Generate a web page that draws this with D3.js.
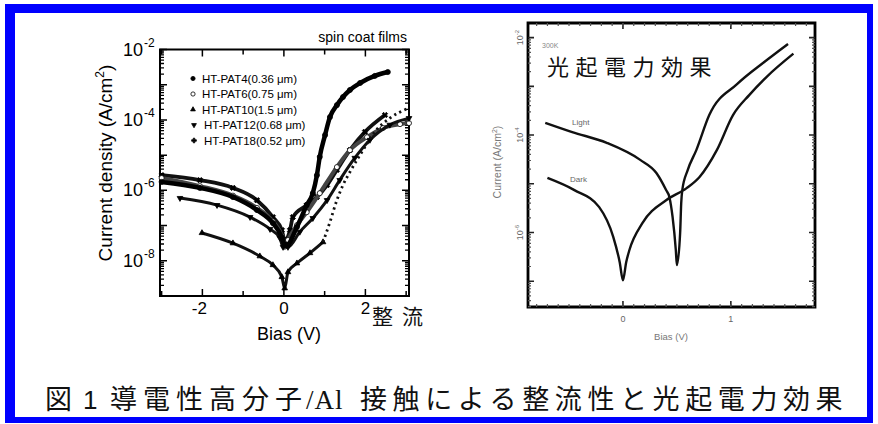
<!DOCTYPE html>
<html>
<head>
<meta charset="utf-8">
<script src="https://cdn.jsdelivr.net/npm/d3@7"></script>
<style>
  body { margin: 0; background: #fff; }
  svg { display: block; }
</style>
</head>
<body>
<svg id="fig" width="878" height="424"></svg>
<script>

// ---- left panel data: [bias (V), log10 current density (A/cm2)]
var pat4 = [[-3.0,-5.76],[-2.06,-5.93],[-1.25,-6.19],[-0.66,-6.56],[-0.27,-6.93],[-0.05,-7.33],[0.02,-7.55],
            [0.07,-7.55],[0.32,-7.04],[0.56,-6.42],[0.71,-6.08],[0.81,-5.57],[0.88,-5.05],[1.01,-4.43],
            [1.13,-3.92],[1.30,-3.58],[1.45,-3.35],[1.62,-3.15],[1.87,-2.95],[2.23,-2.75],[2.55,-2.64]];
var pat6 = [[-3.0,-5.65],[-2.06,-5.88],[-1.25,-6.15],[-0.66,-6.50],[-0.27,-6.88],[-0.05,-7.30],[0.02,-7.60],
            [0.10,-7.41],[0.32,-6.99],[0.56,-6.62],[0.88,-6.08],[1.30,-5.34],[1.62,-4.86],[2.04,-4.49],
            [2.43,-4.23],[2.85,-4.12],[3.07,-4.09]];
var pat10 = [[-2.01,-7.21],[-1.25,-7.50],[-0.59,-7.87],[-0.27,-8.12],[-0.05,-8.46],[0.02,-8.78],
             [0.10,-8.32],[0.32,-8.07],[0.64,-7.78],[0.96,-7.47]];
var pat10Rise = [[0.96,-7.47],[1.13,-6.90],[1.30,-6.28],[1.45,-5.85],[1.62,-5.48],[1.94,-4.86],
                 [2.23,-4.34],[2.60,-3.95],[3.07,-3.66]];
var pat12 = [[-2.55,-6.22],[-1.64,-6.42],[-0.83,-6.76],[-0.34,-7.10],[-0.10,-7.35],[-0.02,-7.61],
             [0.10,-7.61],[0.39,-7.18],[0.71,-6.79],[1.06,-6.28],[1.37,-5.71],[1.74,-5.08],[2.11,-4.57],
             [2.60,-4.14],[3.07,-3.95]];
var pat18 = [[-3.0,-5.57],[-2.06,-5.71],[-1.25,-5.93],[-0.66,-6.28],[-0.27,-6.76],[-0.05,-7.13],[0.02,-7.41],
             [0.15,-7.13],[0.22,-6.76],[0.56,-6.42],[0.81,-6.19],[1.06,-5.85],[1.30,-5.42],[1.62,-4.86],
             [1.99,-4.34],[2.48,-3.86]];

var legendLabels = ["HT-PAT4(0.36 \u03bcm)", "HT-PAT6(0.75 \u03bcm)", "HT-PAT10(1.5 \u03bcm)",
                    "HT-PAT12(0.68 \u03bcm)", "HT-PAT18(0.52 \u03bcm)"];
var leftXTicks = [-2, 0, 2];
var leftXMinor = [-3, -1, 1, 3];
var leftYTicks = [-8, -6, -4, -2];

// ---- right panel data (photovoltaic effect, 300K): [bias (V), log10 current]
var lightCurve = [[-0.72,-3.75],[-0.47,-3.94],[-0.15,-4.16],[0.16,-4.51],[0.31,-4.78],[0.40,-5.13],
                  [0.43,-5.27],[0.46,-5.68],[0.49,-6.36],[0.50,-6.67],[0.53,-6.01],[0.54,-5.40],
                  [0.55,-5.13],[0.60,-4.72],[0.68,-4.31],[0.80,-3.59],[1.06,-2.95],[1.31,-2.50],[1.53,-2.13]];
var darkCurve = [[-0.70,-4.88],[-0.45,-5.13],[-0.22,-5.48],[-0.09,-6.09],[-0.03,-6.61],[0.0,-6.98],
                 [0.03,-6.61],[0.06,-6.36],[0.18,-5.81],[0.40,-5.34],[0.59,-5.09],[0.71,-4.86],
                 [0.87,-4.31],[1.02,-3.59],[1.17,-3.18],[1.33,-2.81],[1.58,-2.33]];
var rightXTicks = [0, 1];
var rightYTicks = [-6, -4, -2];

var svg = d3.select("#fig");
var sans = "'Liberation Sans', Arial, sans-serif";
var cjk = "'Noto Sans CJK JP', sans-serif";
var pow10 = function(e) { return Math.pow(10, e); };

/* blue frame */
svg.append("rect").attr("x", 5).attr("y", 4).attr("width", 10).attr("height", 419).attr("fill", "#0000ff");
svg.append("rect").attr("x", 5).attr("y", 4).attr("width", 868).attr("height", 9).attr("fill", "#0000ff");
svg.append("rect").attr("x", 867).attr("y", 4).attr("width", 6).attr("height", 419).attr("fill", "#0000ff");
svg.append("rect").attr("x", 5).attr("y", 417).attr("width", 868).attr("height", 6).attr("fill", "#0000ff");

// tick marks drawn as one path per set
function tickPath(g, scale, vals, orient, pos, len, w, col) {
  var d = vals.map(function(v) {
    var s = scale(v);
    return orient == "h" ? "M" + pos + "," + s + "h" + len : "M" + s + "," + pos + "v" + len;
  }).join("");
  g.append("path").attr("d", d).attr("fill", "none").attr("stroke", col).attr("stroke-width", w);
}

var P = svg.append("g").attr("font-family", sans);

// ================= left panel =================
var lx = d3.scaleLinear().domain([-3.04, 3.07]).range([160, 409]);
var ly = d3.scaleLog().domain([1e-9, 1e-2]).range([296, 49.5]);

var logMinor = [];
d3.range(-9, -2).forEach(function(e) {
  d3.range(2, 10).forEach(function(m) { logMinor.push(m * pow10(e)); });
});
var decades = d3.range(-9, -1).map(pow10);

tickPath(P, ly, decades, "h", 160, 7, 1.5, "#000");
tickPath(P, ly, logMinor, "h", 160, 4, 1.3, "#000");
tickPath(P, ly, decades, "h", 409, -7, 1.5, "#000");
tickPath(P, ly, logMinor, "h", 409, -4, 1.3, "#000");
tickPath(P, lx, leftXTicks, "v", 296, -7, 1.5, "#000");
tickPath(P, lx, leftXMinor, "v", 296, -5, 1.5, "#000");
tickPath(P, lx, leftXTicks, "v", 49.5, 7, 1.5, "#000");
tickPath(P, lx, leftXMinor, "v", 49.5, 5, 1.5, "#000");

P.append("rect").attr("x", 160).attr("y", 49.5).attr("width", 249).attr("height", 246.5)
  .attr("fill", "none").attr("stroke", "#000").attr("stroke-width", 2);

// ================= right panel =================
var rx = d3.scaleLinear().domain([-0.88, 1.78]).range([528, 815]);
var ry = d3.scaleLog().domain([pow10(-7.53), pow10(-1.70)]).range([307, 23]);

var rDecades = [-7, -6, -5, -4, -3, -2].map(pow10);
var rMinor = [];
[-8, -7, -6, -5, -4, -3, -2].forEach(function(e) {
  [2, 3, 4, 5, 6, 7, 8, 9].forEach(function(m) {
    var v = m * pow10(e);
    if (v > pow10(-7.53) && v < pow10(-1.70)) rMinor.push(v);
  });
});
var rxMinor = d3.range(-8, 18).map(function(k) { return k / 10; });

// frame: closed polyline through the four corners of the scale domain
var xd = rx.domain(), yd = ry.domain();
var corners = [[xd[0], yd[0]], [xd[1], yd[0]], [xd[1], yd[1]], [xd[0], yd[1]], [xd[0], yd[0]]];
var frameLine = d3.line()
  .x(function(d) { return rx(d[0]); })
  .y(function(d) { return ry(d[1]); });
P.append("path").attr("d", frameLine(corners) + "Z")
  .attr("fill", "none").attr("stroke", "black").attr("stroke-width", 2.8)
  .attr("stroke-linejoin", "miter");

tickPath(P, ry, rDecades, "h", rx.range()[0], 6, 1.6, "#222");
tickPath(P, ry, rMinor, "h", rx.range()[0], 3, 1.2, "#555");
tickPath(P, ry, rDecades, "h", rx.range()[1], -6, 1.6, "#222");
tickPath(P, ry, rMinor, "h", rx.range()[1], -3, 1.2, "#555");
tickPath(P, rx, rightXTicks, "v", ry.range()[0], -6, 1.6, "#222");
tickPath(P, rx, rxMinor, "v", ry.range()[0], -3, 1.2, "#555");
tickPath(P, rx, rightXTicks, "v", ry.range()[1], 6, 1.6, "#222");
tickPath(P, rx, rxMinor, "v", ry.range()[1], 3, 1.2, "#555");

// ================= left panel texts and curves =================
leftYTicks.forEach(function(t) {
  P.append("text").attr("x", 143).attr("y", ly(pow10(t)) + 6)
    .attr("text-anchor", "end").attr("font-size", 18).text("10");
  P.append("text").attr("x", 144).attr("y", ly(pow10(t)) - 3)
    .attr("font-size", 12).text(t);
});

leftXTicks.forEach(function(t) {
  P.append("text").attr("x", lx(t) + (t < 0 ? -3 : 0)).attr("y", 314)
    .attr("text-anchor", "middle").attr("font-size", 17).text(t);
});

P.append("text").attr("x", 289).attr("y", 340).attr("text-anchor", "middle")
  .attr("font-size", 18).text("Bias (V)");

var ylab = P.append("text").attr("transform", "translate(112,163) rotate(-90)")
  .attr("text-anchor", "middle").attr("font-size", 19);
ylab.append("tspan").text("Current density (A/cm");
ylab.append("tspan").attr("font-size", 12).attr("dy", -8).text("2");
ylab.append("tspan").attr("dy", 8).text(")");

P.append("text").attr("x", 407).attr("y", 42).attr("text-anchor", "end")
  .attr("font-size", 14).text("spin coat films");

svg.append("text").attr("x", 372).attr("y", 324).attr("font-family", cjk)
  .attr("font-size", 21).attr("letter-spacing", 9).attr("fill", "#111").text("整流");

var lline = d3.line().curve(d3.curveMonotoneX)
  .x(function(d) { return lx(d[0]); })
  .y(function(d) { return ly(pow10(d[1])); });

var series = [
  { data: pat18, sym: d3.symbolCross, size: 18, fill: "#000", w: 3.8, col: "#111", rot: 45 },
  { data: pat6, sym: d3.symbolCircle, size: 20, fill: "#fff", w: 4, col: "#444", rot: 0 },
  { data: pat12, sym: d3.symbolTriangle, size: 14, fill: "#000", w: 3, col: "#111", rot: 180 },
  { data: pat10, sym: d3.symbolTriangle, size: 14, fill: "#000", w: 3, col: "#111", rot: 0 },
  { data: pat4, sym: d3.symbolCircle, size: 20, fill: "#000", w: 4.5, col: "#000", rot: 0 }
];

series.forEach(function(s) {
  P.append("path").attr("d", lline(s.data)).attr("fill", "none")
    .attr("stroke", s.col).attr("stroke-width", s.w);
  P.selectAll(null).data(s.data).enter().append("path")
    .attr("d", d3.symbol().type(s.sym).size(s.size))
    .attr("transform", function(d) {
      return "translate(" + lx(d[0]) + "," + ly(pow10(d[1])) + ") rotate(" + s.rot + ")";
    })
    .attr("fill", s.fill).attr("stroke", "#000").attr("stroke-width", 0.8);
});

// PAT10 steep rise: sparse triangles
P.append("path").attr("d", lline(pat10Rise)).attr("fill", "none")
  .attr("stroke", "#111").attr("stroke-width", 2.8).attr("stroke-dasharray", "2.2,3.5");

var legSyms = [
  { sym: d3.symbolCircle, size: 14, fill: "#000", rot: 0, dx: 0 },
  { sym: d3.symbolCircle, size: 14, fill: "#fff", rot: 0, dx: 0 },
  { sym: d3.symbolTriangle, size: 10, fill: "#000", rot: 0, dx: 0 },
  { sym: d3.symbolTriangle, size: 10, fill: "#000", rot: 180, dx: 2 },
  { sym: d3.symbolCross, size: 12, fill: "#000", rot: 0, dx: 2 }
];
legendLabels.forEach(function(lab, i) {
  var yy = 78.5 + i * 15.5;
  var s = legSyms[i];
  P.append("path").attr("d", d3.symbol().type(s.sym).size(s.size)())
    .attr("transform", "translate(" + (193 + s.dx * 0.5) + "," + yy + ") rotate(" + s.rot + ")")
    .attr("fill", s.fill).attr("stroke", "#000").attr("stroke-width", 0.8);
  P.append("text").attr("x", 202 + s.dx).attr("y", yy + 4).attr("font-size", 11.5).text(lab);
});

// ================= right panel curves and texts =================
var rline = d3.line().curve(d3.curveMonotoneX)
  .x(function(d) { return rx(d[0]); })
  .y(function(d) { return ry(pow10(d[1])); });
[lightCurve, darkCurve].forEach(function(c) {
  P.append("path").attr("d", rline(c)).attr("fill", "none")
    .attr("stroke", "#111").attr("stroke-width", 2.4);
});

rightYTicks.forEach(function(t) {
  var g = P.append("text").attr("transform", "translate(523," + ry(pow10(t)) + ") rotate(-90)")
    .attr("text-anchor", "middle").attr("font-size", 9).attr("fill", "#666");
  g.append("tspan").text("10");
  g.append("tspan").attr("font-size", 6).attr("dy", -4).text(t);
});
rightXTicks.forEach(function(t) {
  P.append("text").attr("x", rx(t)).attr("y", 322).attr("text-anchor", "middle")
    .attr("font-size", 9).attr("fill", "#666").text(t);
});
P.append("text").attr("x", 671).attr("y", 340).attr("text-anchor", "middle")
  .attr("font-size", 9.5).attr("fill", "#777").text("Bias (V)");

var rylab = P.append("text").attr("transform", "translate(501,162) rotate(-90)")
  .attr("text-anchor", "middle").attr("font-size", 10.5).attr("fill", "#777");
rylab.append("tspan").text("Current (A/cm");
rylab.append("tspan").attr("font-size", 7).attr("dy", -4).text("2");
rylab.append("tspan").attr("dy", 4).text(")");

P.append("text").attr("x", 542).attr("y", 48).attr("font-size", 7).attr("fill", "#888").text("300K");
P.append("text").attr("x", 572).attr("y", 125).attr("font-size", 8).attr("fill", "#666").text("Light");
P.append("text").attr("x", 570).attr("y", 182).attr("font-size", 8).attr("fill", "#666").text("Dark");

svg.append("text").attr("x", 547).attr("y", 75).attr("font-family", cjk)
  .attr("font-size", 22).attr("letter-spacing", 6.5).attr("fill", "#111").text("光起電力効果");

// ================= caption =================
var cap = svg.append("g").attr("font-family", cjk).attr("font-size", 27).attr("fill", "#111");
cap.append("text").attr("x", 45).attr("y", 409).text("図");
cap.append("text").attr("x", 83).attr("y", 409).attr("font-family", sans).attr("font-size", 26).text("1");
cap.append("text").attr("x", 110).attr("y", 409).attr("letter-spacing", 6).text("導電性高分子");
cap.append("text").attr("x", 306).attr("y", 409).attr("font-family", "'Liberation Serif', serif")
  .attr("font-size", 27).attr("letter-spacing", 1).text("/Al");
cap.append("text").attr("x", 360).attr("y", 409).attr("letter-spacing", 5.6).text("接触による整流性と光起電力効果");

</script>
</body>
</html>
